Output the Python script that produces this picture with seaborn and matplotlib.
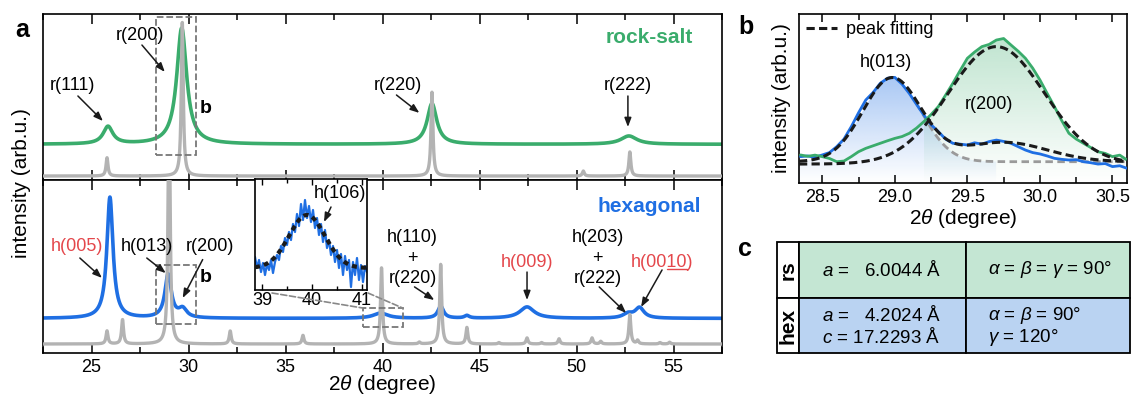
import numpy as np
import pandas as pd
import matplotlib
matplotlib.use('Agg')
import matplotlib.pyplot as plt
import seaborn as sns
from matplotlib.patches import Rectangle, Polygon, ConnectionPatch
from matplotlib.lines import Line2D
from matplotlib.colors import to_rgb

# ------------------------------------------------------------------ data
XLIM_A = (22.5, 57.5)
TICKS_A = [25, 30, 35, 40, 45, 50, 55]

# rock-salt film (panel a, top): baseline + peaks (centre, height, FWHM)
rs_base = 21.5
rs_pos = [25.85, 29.65, 42.55, 52.70]
rs_hgt = [10.5, 70.0, 24.5, 5.0]
rs_fwhm = [0.60, 0.62, 0.60, 1.00]

# rock-salt reference pattern (grey)
rsref_base = 2.4
rsref_pos = [25.80, 29.68, 42.55, 50.35, 52.75]
rsref_hgt = [11.0, 92.5, 50.5, 3.0, 14.5]

# hexagonal film (panel a, bottom)
hx_base = 20.0
hx_pos = [25.95, 28.95, 29.70, 39.90, 43.00, 44.35, 47.45, 52.65, 53.25]
hx_hgt = [70.0, 25.0, 5.0, 3.0, 7.0, 1.5, 6.6, 2.5, 6.0]
hx_fwhm = [0.38, 0.40, 0.50, 0.90, 0.35, 0.30, 0.90, 0.60, 0.55]

# hexagonal reference pattern (grey)
hxref_base = 5.2
hxref_pos = [25.80, 26.60, 29.00, 32.15, 35.90, 39.95, 41.90, 43.00, 44.35, 46.00,
             47.45, 48.20, 49.10, 50.80, 51.25, 52.75, 53.15, 54.30, 54.80]
hxref_hgt = [7.5, 14.0, 150.0, 7.5, 5.0, 44.0, 1.0, 46.0, 9.5, 0.8,
             3.5, 0.8, 3.0, 3.5, 1.5, 17.0, 2.0, 0.8, 1.0]
REF_FWHM = 0.12

# inset: h(106) region
inset_x0, inset_dx = 38.86, 0.04
inset_y = [33, 22, 30, 18, 27, 15, 26, 20, 30, 17, 28, 35, 30, 44, 38, 52, 45, 58, 50, 66,
           58, 76, 64, 86, 70, 90, 72, 84, 68, 80, 62, 72, 55, 66, 48, 60, 42, 50, 35, 44,
           28, 40, 22, 36, 15, 34, 20, 30, 3, 28, 15, 32, 10, 25, 8, 24, 18]
inset_fit = dict(base=22.0, amp=53.0, c=39.90, s=0.36)

# panel b: zoom around 29 deg
b_x0, b_dx = 28.35, 0.05
b_blue = [15.6, 16.0, 15.2, 16.6, 18.0, 21.5, 26.0, 33.3, 41.5, 49.1,
          53.5, 59.0, 62.0, 62.5, 58.5, 53.0, 46.5, 40.2, 34.5, 30.4,
          26.0, 23.5, 23.0, 22.5, 23.8, 23.0, 24.5, 25.4, 24.6, 23.5,
          21.5, 19.5, 18.0, 17.2, 16.0, 14.6, 14.0, 13.6, 13.8, 12.6,
          12.0, 11.2, 11.5, 9.7, 10.2, 8.7]
b_green = [16.6, 15.8, 16.5, 15.6, 14.5, 12.6, 13.0, 15.6, 18.5, 20.5,
           22.0, 23.5, 25.0, 26.4, 27.5, 29.4, 32.5, 36.3, 40.5, 45.2,
           52.0, 59.0, 66.5, 73.8, 77.5, 80.7, 82.0, 84.6, 85.5, 81.7,
           78.0, 73.8, 68.0, 61.0, 53.0, 45.2, 37.0, 29.4, 26.0, 23.5,
           21.0, 18.5, 17.5, 15.6, 16.5, 13.6]
fit_green = dict(base=11.2, c=[29.70], a=[69.5], s=[0.33])
fit_blue = dict(base=12.6, c=[28.98, 29.75], a=[49.4, 11.5], s=[0.20, 0.30])

# panel c: lattice parameters
tab_rows = ['rs', 'hex']
tab_len = [['$a$ =   6.0044 Å'], ['$a$ =   4.2024 Å', '$c$ = 17.2293 Å']]
tab_ang = [[r'$\mathit{\alpha}$ = $\mathit{\beta}$ = $\mathit{\gamma}$ = 90°'],
           [r'$\mathit{\alpha}$ = $\mathit{\beta}$ = 90°', r'$\mathit{\gamma}$ = 120°']]

# ------------------------------------------------------------------ colours
GREEN = '#3aac6c'
BLUE = '#1f6fe3'
RED = '#e4474b'
GREY = '#b3b3b3'
TAB_GREEN = '#c4e6d3'
TAB_BLUE = '#bad3f2'

# ------------------------------------------------------------------ style
sns.set_theme(style='ticks')
plt.rcParams.update({
    'font.family': ['Liberation Sans', 'DejaVu Sans'],
    'mathtext.fontset': 'custom',
    'mathtext.rm': 'Liberation Sans',
    'mathtext.it': 'Liberation Sans:italic',
    'mathtext.bf': 'Liberation Sans:bold',
    'axes.linewidth': 1.2,
    'axes.edgecolor': 'black',
    'xtick.color': 'black',
    'ytick.color': 'black',
    'text.color': 'black',
    'axes.labelcolor': 'black',
    'xtick.labelsize': 13,
})


def lorentz(x, base, pos, hgt, fwhm):
    y = np.full_like(x, base, dtype=float)
    for c, h, w in zip(pos, hgt, fwhm):
        y += h / (1.0 + ((x - c) / (w / 2.0)) ** 2)
    return y


def gauss(x, base, c, a, s):
    y = np.full_like(x, base, dtype=float)
    for cc, aa, ss in zip(c, a, s):
        y += aa * np.exp(-(x - cc) ** 2 / (2 * ss ** 2))
    return y


W, H = 1132, 398
fig = plt.figure(figsize=(W / 100, H / 100), dpi=100)


def rect(x0, y0, x1, y1):
    return [x0 / W, 1 - y1 / H, (x1 - x0) / W, (y1 - y0) / H]


ax_top = fig.add_axes(rect(43, 14, 722, 180))
ax_bot = fig.add_axes(rect(43, 180, 722, 353))
ax_in = fig.add_axes(rect(255, 179, 367, 290))
ax_b = fig.add_axes(rect(799, 14, 1127, 183))
ax_c = fig.add_axes(rect(777, 242, 1131, 354))

x = np.linspace(XLIM_A[0], XLIM_A[1], 7001)


def line(ax, xx, yy, color, lw, z, **kw):
    df = pd.DataFrame({'x': xx, 'y': yy})
    sns.lineplot(data=df, x='x', y='y', ax=ax, color=color, lw=lw, estimator=None,
                 sort=False, zorder=z, **kw)


# ---------------- panel a top
line(ax_top, x, lorentz(x, rs_base, rs_pos, rs_hgt, rs_fwhm), GREEN, 2.6, 2)
line(ax_top, x, lorentz(x, rsref_base, rsref_pos, rsref_hgt, [REF_FWHM] * len(rsref_pos)),
     GREY, 2.4, 3)
# ---------------- panel a bottom
line(ax_bot, x, lorentz(x, hx_base, hx_pos, hx_hgt, hx_fwhm), BLUE, 2.6, 2)
line(ax_bot, x, lorentz(x, hxref_base, hxref_pos, hxref_hgt, [REF_FWHM] * len(hxref_pos)),
     GREY, 2.4, 3)

for ax in (ax_top, ax_bot):
    ax.set_xlim(*XLIM_A)
    ax.set_ylim(0, 100)
    ax.set_xticks(TICKS_A)
    ax.set_xticks(np.arange(22.5, 57.6, 5), minor=True)
    ax.tick_params(axis='x', which='both', direction='in', top=True, bottom=True, width=1.1)
    ax.tick_params(axis='x', which='major', length=7, pad=4)
    ax.tick_params(axis='x', which='minor', length=4)
    ax.set_yticks([])
    ax.set_xlabel('')
    ax.set_ylabel('')
ax_top.tick_params(axis='x', labelbottom=False)
ax_bot.set_xlabel(r'$\mathit{2\theta}$ (degree)', fontsize=15, labelpad=-1.5)
fig.text(22 / W, 1 - 183 / H, 'intensity (arb.u.)', rotation=90, ha='center', va='center',
         fontsize=15)

ARW = dict(arrowstyle='-|>,head_length=0.45,head_width=0.17', color='k', lw=1.1,
           shrinkA=0, shrinkB=0)


def arrow(ax, x0, y0, x1, y1):
    ax.annotate('', xy=(x1, y1), xytext=(x0, y0), arrowprops=ARW, zorder=6)


LK = dict(fontsize=13, ha='center', va='center', zorder=6)
# top labels
ax_top.text(24.0, 57.2, 'r(111)', **LK); arrow(ax_top, 24.3, 50.6, 25.59, 35.5)
ax_top.text(27.49, 87.3, 'r(200)', **LK); arrow(ax_top, 27.6, 81.3, 28.78, 65.1)
ax_top.text(40.77, 57.2, 'r(220)', **LK); arrow(ax_top, 40.72, 51.2, 41.9, 40.4)
ax_top.text(52.62, 57.2, 'r(222)', **LK); arrow(ax_top, 52.65, 50.6, 52.65, 31.9)
ax_top.text(53.74, 86.1, 'rock-salt', fontsize=15, fontweight='bold', color=GREEN,
            ha='center', va='center')
ax_top.add_patch(Rectangle((28.35, 15.1), 2.05, 83.1, fill=False, ls='--', ec='#777777',
                           lw=1.3, zorder=5))
ax_top.text(30.58, 42.8, 'b', fontsize=14, fontweight='bold', ha='left', va='center')

# bottom labels
ax_bot.text(24.25, 61.3, 'h(005)', color=RED, **LK); arrow(ax_bot, 24.4, 54.9, 25.54, 43.4)
ax_bot.text(27.85, 61.3, 'h(013)', **LK); arrow(ax_bot, 27.85, 54.9, 28.83, 46.2)
ax_bot.text(31.1, 61.3, 'r(200)', **LK); arrow(ax_bot, 30.73, 54.0, 29.7, 31.8)
ax_bot.text(41.54, 54.9, 'h(110)\n+\nr(220)', linespacing=1.3, **LK)
arrow(ax_bot, 41.65, 38.2, 42.67, 30.6)
ax_bot.text(47.46, 52.6, 'h(009)', color=RED, **LK); arrow(ax_bot, 47.45, 46.8, 47.45, 30.6)
ax_bot.text(51.08, 54.9, 'h(203)\n+\nr(222)', linespacing=1.3, **LK)
arrow(ax_bot, 51.17, 38.2, 52.56, 23.1)
t_0010 = ax_bot.text(54.41, 52.6, 'h(0010)', color=RED, **LK)
arrow(ax_bot, 54.41, 48.0, 53.33, 26.6)
ax_bot.text(53.74, 84.4, 'hexagonal', fontsize=15, fontweight='bold', color=BLUE,
            ha='center', va='center')
ax_bot.add_patch(Rectangle((28.35, 16.8), 2.05, 34.1, fill=False, ls='--', ec='#777777',
                           lw=1.3, zorder=5))
ax_bot.text(30.58, 43.9, 'b', fontsize=14, fontweight='bold', ha='left', va='center')
ax_bot.add_patch(Rectangle((38.98, 15.0), 2.06, 11.0, fill=False, ls='--', ec='#777777',
                           lw=1.3, zorder=5))

# ---------------- inset
xi = inset_x0 + inset_dx * np.arange(len(inset_y))
line(ax_in, xi, inset_y, BLUE, 1.6, 2)
xf = np.linspace(38.86, 41.1, 400)
ax_in.plot(xf, gauss(xf, inset_fit['base'], [inset_fit['c']], [inset_fit['amp']],
                     [inset_fit['s']]), color='k', lw=3.0, ls=(0, (1.2, 1.0)), zorder=3)
ax_in.set_xlim(38.86, 41.1)
ax_in.set_ylim(0, 111)
ax_in.set_xticks([39, 40, 41])
ax_in.set_xticks([39.5, 40.5], minor=True)
ax_in.tick_params(axis='x', which='both', direction='in', top=True, bottom=True, width=1.0,
                  pad=1.5, labelsize=13)
ax_in.tick_params(axis='x', which='major', length=4)
ax_in.tick_params(axis='x', which='minor', length=3)
ax_in.set_yticks([])
ax_in.set_xlabel(''); ax_in.set_ylabel('')
ax_in.set_facecolor('white')
ax_in.text(40.56, 97, 'h(106)', fontsize=13, ha='center', va='center')
ax_in.annotate('', xy=(40.24, 68), xytext=(40.38, 83), arrowprops=ARW)
for (xa, ya), (xb, yb) in [((39.2, -3), (38.98, 26.0)), ((41.12, -3), (41.04, 26.0))]:
    con = ConnectionPatch(xyA=(xa, ya), coordsA=ax_in.transData, xyB=(xb, yb),
                          coordsB=ax_bot.transData, ls='--', color='#888888', lw=1.2)
    fig.add_artist(con)

# ---------------- panel b
xb_ = b_x0 + b_dx * np.arange(len(b_blue))
xg = np.linspace(28.34, 30.6, 600)
h013 = gauss(xg, fit_blue['base'], fit_blue['c'][:1], fit_blue['a'][:1], fit_blue['s'][:1])


def gradient_fill(ax, xx, yy, color, y0, a_top, a_bot, z=1):
    xx = np.asarray(xx); yy = np.asarray(yy)
    verts = np.vstack([[xx[0], y0], np.column_stack([xx, yy]), [xx[-1], y0]])
    poly = Polygon(verts, closed=True, fc='none', ec='none')
    ax.add_patch(poly)
    img = np.zeros((256, 1, 4))
    img[..., :3] = to_rgb(color)
    img[..., 3] = np.linspace(a_bot, a_top, 256)[:, None]
    im = ax.imshow(img, extent=[xx.min(), xx.max(), y0, yy.max()], origin='lower',
                   aspect='auto', zorder=z, interpolation='bilinear')
    im.set_clip_path(poly)


m = xg <= 29.7
gradient_fill(ax_b, xg[m], h013[m], BLUE, 0, 0.38, 0.0)
mg = xb_ >= 29.2
gradient_fill(ax_b, xb_[mg], np.asarray(b_green)[mg], GREEN, 0, 0.32, 0.0)

line(ax_b, xb_, b_blue, BLUE, 2.0, 3)
line(ax_b, xb_, b_green, GREEN, 2.0, 3)
mgray = xg >= 29.15
ax_b.plot(xg[mgray], h013[mgray], color='#9a9a9a', lw=2.0, ls=(0, (2.7, 1.6)), zorder=2)
ax_b.plot(xg, gauss(xg, **fit_blue), color='k', lw=2.2, ls=(0, (2.7, 1.4)), zorder=4)
ax_b.plot(xg, gauss(xg, **fit_green), color='k', lw=2.2, ls=(0, (2.7, 1.4)), zorder=4)
ax_b.set_xlim(28.34, 30.6)
ax_b.set_ylim(0, 100)
ax_b.set_xticks([28.5, 29.0, 29.5, 30.0, 30.5])
ax_b.set_xticklabels(['28.5', '29.0', '29.5', '30.0', '30.5'])
ax_b.set_xticks([28.75, 29.25, 29.75, 30.25], minor=True)
ax_b.tick_params(axis='x', which='both', direction='in', top=True, bottom=True, width=1.1,
                 pad=4)
ax_b.tick_params(axis='x', which='major', length=6)
ax_b.tick_params(axis='x', which='minor', length=4)
ax_b.set_yticks([])
ax_b.set_xlabel(r'$\mathit{2\theta}$ (degree)', fontsize=15, labelpad=1)
ax_b.set_ylabel('intensity (arb.u.)', fontsize=15, labelpad=6)
ax_b.text(28.94, 71.3, 'h(013)', fontsize=13, ha='center', va='center', zorder=6)
ax_b.text(29.65, 46.2, 'r(200)', fontsize=13, ha='center', va='center', zorder=6)
ax_b.legend(handles=[Line2D([0], [0], color='k', lw=2.2, ls=(0, (2.7, 1.4)))],
            labels=['peak fitting'], loc='upper left', frameon=False, fontsize=13,
            handlelength=1.7, handletextpad=0.5, borderaxespad=0.2, borderpad=0.2)

# ---------------- panel c (table)
ax_c.set_xlim(0, 354)
ax_c.set_ylim(112, 0)
ax_c.axis('off')
col_x = [0, 22, 189, 353]
row_y = [0, 56, 111]
fills = [TAB_GREEN, TAB_BLUE]
for r in range(2):
    y0, y1 = row_y[r], row_y[r + 1]
    ax_c.add_patch(Rectangle((col_x[0], y0), col_x[1] - col_x[0], y1 - y0, fc='white',
                             ec='black', lw=1.3, clip_on=False))
    for cidx in (1, 2):
        ax_c.add_patch(Rectangle((col_x[cidx], y0), col_x[cidx + 1] - col_x[cidx], y1 - y0,
                                 fc=fills[r], ec='black', lw=1.3, clip_on=False))
    ax_c.text(11, (y0 + y1) / 2, tab_rows[r], rotation=90, fontsize=15, fontweight='bold',
              ha='center', va='center')
    lines_y = [(y0 + y1) / 2] if len(tab_len[r]) == 1 else [y0 + 17, y0 + 39]
    for s, yy in zip(tab_len[r], lines_y):
        ax_c.text(45, yy, s, fontsize=13.5, ha='left', va='center')
    for s, yy in zip(tab_ang[r], lines_y):
        ax_c.text(211, yy, s, fontsize=13.5, ha='left', va='center')

# ---------------- panel letters
fig.text(15 / W, 1 - 30 / H, 'a', fontsize=18, fontweight='bold', ha='left', va='center')
fig.text(738 / W, 1 - 27 / H, 'b', fontsize=18, fontweight='bold', ha='left', va='center')
fig.text(738 / W, 1 - 249 / H, 'c', fontsize=18, fontweight='bold', ha='left', va='center')

# underline "10" in h(0010)
fig.canvas.draw()
rend = fig.canvas.get_renderer()
bb = t_0010.get_window_extent(rend)
prop = t_0010.get_fontproperties()
w1, _, _ = rend.get_text_width_height_descent('h(00', prop, ismath=False)
w2, _, _ = rend.get_text_width_height_descent('h(0010', prop, ismath=False)
_, _, d = rend.get_text_width_height_descent('h(0010)', prop, ismath=False)
yline = bb.y0 + d - 2.0
p0 = fig.transFigure.inverted().transform((bb.x0 + w1, yline))
p1 = fig.transFigure.inverted().transform((bb.x0 + w2, yline))
fig.add_artist(Line2D([p0[0], p1[0]], [p0[1], p1[1]], color=RED, lw=1.0,
                      transform=fig.transFigure))

fig.savefig('out.png', dpi=100)
